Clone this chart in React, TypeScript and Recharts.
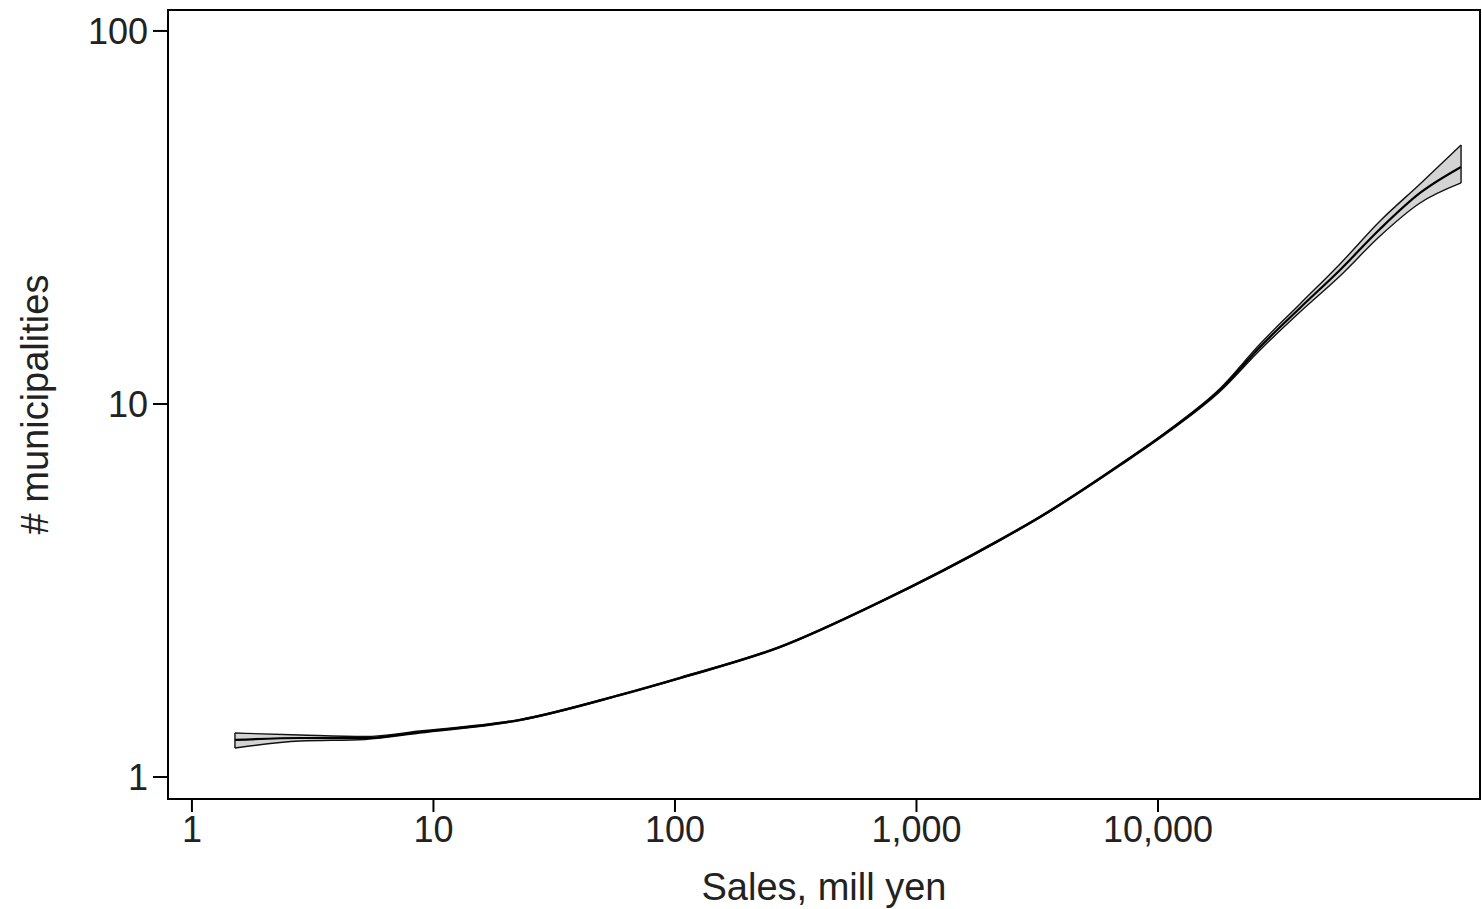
import React from 'react'
import {
  ComposedChart,
  Area,
  Line,
  XAxis,
  YAxis,
  ReferenceArea,
  ReferenceLine,
} from 'recharts'

// sales (mill yen) and # municipalities
const sales = [1.507, 2.8, 5.2, 8.79, 22.8, 59.2, 105, 272, 706, 2217, 3246, 6961, 11210, 18060, 26450, 38720, 56700, 83050, 121600, 179800]
const fitMid = [1.257, 1.272, 1.272, 1.32, 1.422, 1.659, 1.843, 2.231, 2.945, 4.319, 4.978, 6.863, 8.517, 10.9, 14.22, 18.09, 22.87, 29.45, 36.79, 43.19]
const fitLow = [1.196, 1.249, 1.261, 1.312, 1.417, 1.653, 1.836, 2.222, 2.933, 4.3, 4.955, 6.83, 8.465, 10.8, 13.96, 17.65, 22.04, 28.21, 34.58, 39.13]
const fitHigh = [1.312, 1.296, 1.284, 1.328, 1.427, 1.665, 1.85, 2.24, 2.957, 4.34, 5.0, 6.9, 8.57, 11.0, 14.48, 18.54, 23.73, 30.94, 38.89, 49.48]

const xTicks = [1, 10, 100, 1000, 10000]
const yTicks = [1, 10, 100]
const xDomain = [0.796, 215400]
const yDomain = [0.873, 113.8]

const data = sales.map((s, i) => ({
  sales: s,
  mid: fitMid[i],
  lo: fitLow[i],
  hi: fitHigh[i],
  band: [fitLow[i], fitHigh[i]],
}))

const FONT = '"Liberation Sans", Arial, Helvetica, sans-serif'
const INK = '#222'

const first = data[0]
const last = data[data.length - 1]

export default function App() {
  return (
    <div style={{ position: 'absolute', left: 0, top: 0, background: '#fff' }}>
      <ComposedChart
        width={1482}
        height={909}
        data={data}
        margin={{ top: 10, right: 2, bottom: 0, left: 0 }}
      >
        <XAxis
          dataKey="sales"
          type="number"
          scale="log"
          domain={xDomain}
          allowDataOverflow
          ticks={xTicks}
          tickFormatter={(v: number) => v.toLocaleString('en-US')}
          height={110}
          tickSize={13}
          tickMargin={4}
          stroke="#000"
          strokeWidth={2}
          tick={{ fontSize: 36, fill: INK, fontFamily: FONT }}
          label={({ viewBox }: any) => (
            <text
              x={viewBox.x + viewBox.width / 2}
              y={viewBox.y + 101}
              textAnchor="middle"
              fontSize={38}
              fill={INK}
              fontFamily={FONT}
            >
              Sales, mill yen
            </text>
          )}
        />
        <YAxis
          type="number"
          scale="log"
          domain={yDomain}
          allowDataOverflow
          ticks={yTicks}
          width={168}
          tickSize={15}
          tickMargin={5}
          stroke="#000"
          strokeWidth={2}
          tick={{ fontSize: 36, fill: INK, fontFamily: FONT }}
          label={({ viewBox }: any) => {
            const cx = viewBox.x + 35
            const cy = viewBox.y + viewBox.height / 2
            return (
              <text
                x={cx}
                y={cy}
                transform={`rotate(-90, ${cx}, ${cy})`}
                textAnchor="middle"
                dominantBaseline="central"
                fontSize={38}
                fill={INK}
                fontFamily={FONT}
              >
                # municipalities
              </text>
            )
          }}
        />
        {/* plot frame */}
        <ReferenceArea
          x1={xDomain[0]}
          x2={xDomain[1]}
          y1={yDomain[0]}
          y2={yDomain[1]}
          fill="none"
          fillOpacity={0}
          stroke="#000"
          strokeWidth={2}
          ifOverflow="visible"
        />
        <Area
          dataKey="band"
          type="monotone"
          fill="#d4d4d4"
          fillOpacity={1}
          stroke="none"
          isAnimationActive={false}
        />
        <Line dataKey="lo" type="monotone" stroke="#111" strokeWidth={1.4} dot={false} isAnimationActive={false} />
        <Line dataKey="hi" type="monotone" stroke="#111" strokeWidth={1.4} dot={false} isAnimationActive={false} />
        <Line dataKey="mid" type="monotone" stroke="#000" strokeWidth={2.2} dot={false} isAnimationActive={false} />
        <ReferenceLine
          segment={[{ x: first.sales, y: first.lo }, { x: first.sales, y: first.hi }]}
          stroke="#111"
          strokeWidth={1.4}
        />
        <ReferenceLine
          segment={[{ x: last.sales, y: last.lo }, { x: last.sales, y: last.hi }]}
          stroke="#111"
          strokeWidth={1.4}
        />
      </ComposedChart>
    </div>
  )
}
